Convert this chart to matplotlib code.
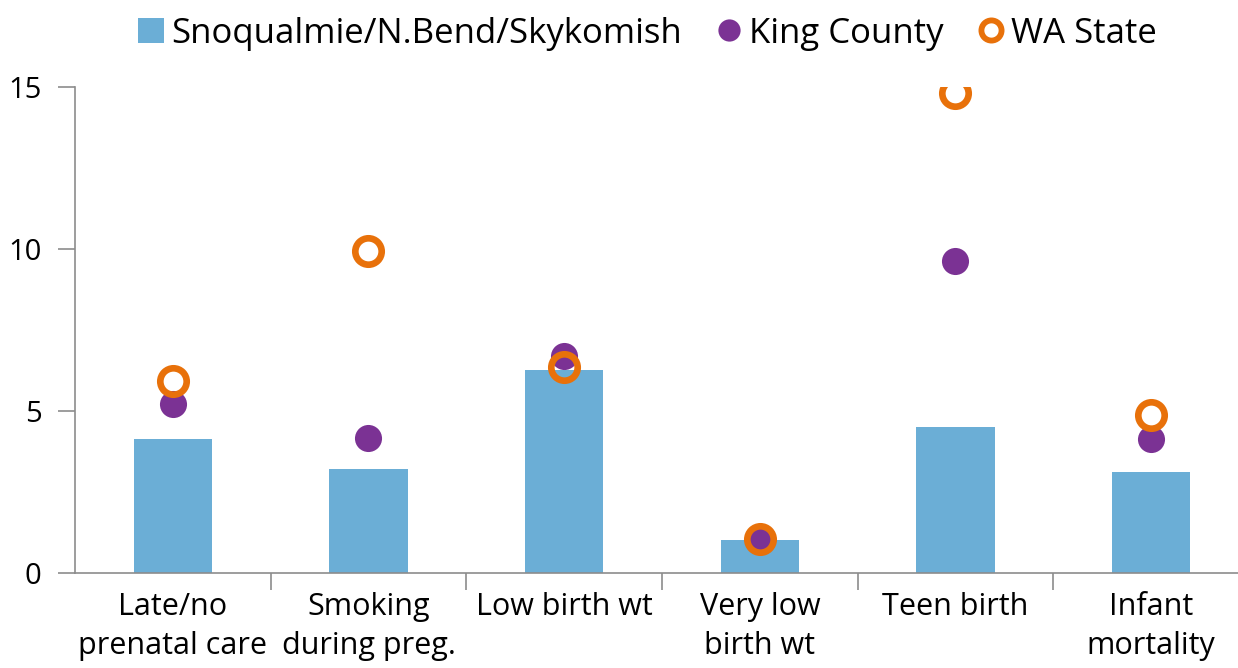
import matplotlib
matplotlib.use("Agg")
import matplotlib.pyplot as plt
from matplotlib.lines import Line2D
from matplotlib.patches import Patch
import numpy as np

categories = ["Late/no\nprenatal care", "Smoking\nduring preg.", "Low birth wt",
              "Very low\nbirth wt", "Teen birth", "Infant\nmortality"]
snoqualmie = [4.14, 3.21, 6.27, 1.02, 4.51, 3.12]
king_county = [5.22, 4.17, 6.70, 1.02, 9.63, 4.14]
wa_state = [5.93, 9.94, 6.36, 1.05, 14.81, 4.88]
y_ticks = [0, 5, 10, 15]

bar_color = "#6BAED6"
purple = "#7B3294"
orange = "#E8710A"
gray = "#8C8C8C"

plt.rcParams['font.family'] = ['Open Sans', 'DejaVu Sans']

fig = plt.figure(figsize=(12.38, 6.68), dpi=100)
ax = fig.add_axes([75/1238, 1-573/668, 1174/1238, 486/668])

x = np.arange(len(categories))
ax.bar(x, snoqualmie, width=0.4, color=bar_color, zorder=2)
ax.plot(x, king_county, 'o', color=purple, markersize=19.5, markeredgewidth=0, zorder=3, linestyle='none')
ax.plot(x, wa_state, 'o', markerfacecolor='none', markeredgecolor=orange, markersize=19,
        markeredgewidth=4.8, zorder=4, linestyle='none')

ax.set_xlim(-0.5, len(categories) - 0.5)
ax.set_ylim(0, 15)
ax.set_yticks(y_ticks)
ax.set_yticklabels([str(t) for t in y_ticks], fontsize=21)
ax.set_xticks(x)
ax.set_xticklabels(categories, fontsize=22, linespacing=1.38)
ax.tick_params(axis='x', which='major', length=0, pad=14)
ax.set_xticks(np.arange(len(categories) - 1) + 0.5, minor=True)
ax.tick_params(axis='x', which='minor', length=12, color=gray, width=1.2)
ax.tick_params(axis='y', length=12, color=gray, width=1.2, pad=12)

for s in ['top', 'right']:
    ax.spines[s].set_visible(False)
for s in ['left', 'bottom']:
    ax.spines[s].set_color(gray)
    ax.spines[s].set_linewidth(1.2)

handles = [
    Patch(facecolor=bar_color, edgecolor='none'),
    Line2D([], [], marker='o', color=purple, markersize=16, markeredgewidth=0, linestyle='none'),
    Line2D([], [], marker='o', markerfacecolor='none', markeredgecolor=orange, markersize=14.5,
           markeredgewidth=4.2, linestyle='none'),
]
labels = ["Snoqualmie/N.Bend/Skykomish", "King County", "WA State"]
fig.legend(handles, labels, loc='upper center', bbox_to_anchor=(0.523, 1.022), ncol=3, frameon=False,
           fontsize=25, handlelength=0.75, handleheight=0.75, handletextpad=0.2, columnspacing=1.0)

fig.savefig("out.png", dpi=100)
